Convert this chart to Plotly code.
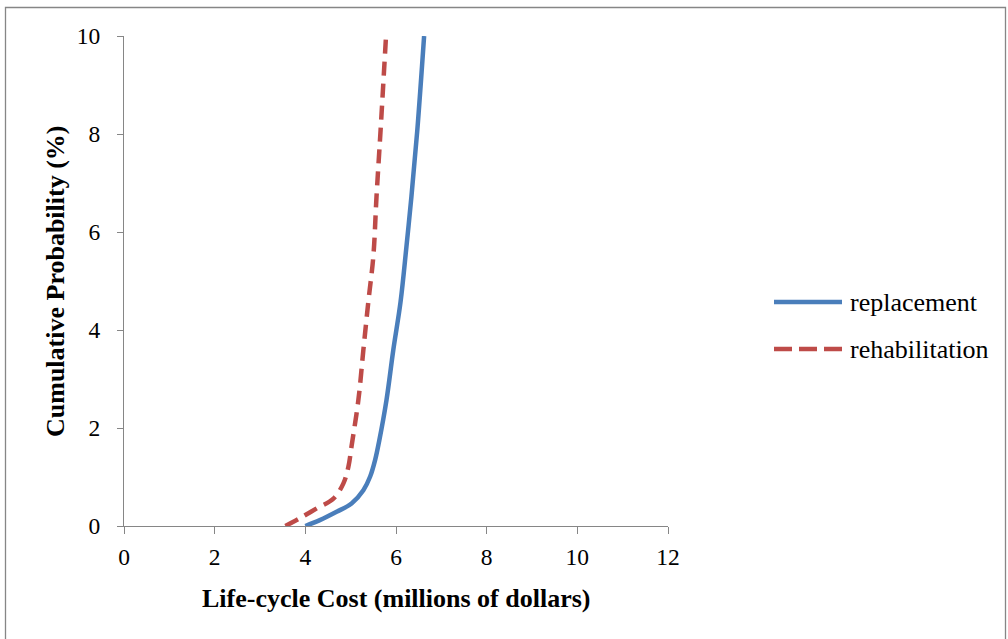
import plotly.graph_objects as go

# Data
replacement_cost = [4.0, 4.32, 4.69, 5.02, 5.28, 5.43, 5.54, 5.63, 5.79, 5.94, 6.10, 6.23, 6.34, 6.47, 6.62]
replacement_prob = [0.0, 0.12, 0.29, 0.46, 0.73, 1.01, 1.35, 1.74, 2.57, 3.59, 4.57, 5.70, 6.72, 8.08, 10.0]

rehab_cost = [3.56, 3.88, 4.25, 4.62, 4.84, 4.95, 5.02, 5.17, 5.28, 5.39, 5.50, 5.57, 5.66, 5.78]
rehab_prob = [0.0, 0.16, 0.36, 0.56, 0.87, 1.21, 1.63, 2.57, 3.59, 4.58, 5.50, 6.72, 8.08, 10.0]

x_ticks = [0, 2, 4, 6, 8, 10, 12]
y_ticks = [0, 2, 4, 6, 8, 10]

BLUE = "#4A7EBB"
RED = "#BE4B48"
AXIS = "#868686"
FONT = "Liberation Serif"

W, H = 1008, 639
L, R, T, B = 124, 340, 36, 113
pw, ph = W - L - R, H - T - B


def px(xp):
    return (xp - L) / pw


def py(yp):
    return (H - B - yp) / ph


fig = go.Figure()
fig.add_trace(go.Scatter(x=replacement_cost, y=replacement_prob, mode="lines",
                         name="replacement", line=dict(color=BLUE, width=4.5, shape="spline", smoothing=1.0),
                         showlegend=False, cliponaxis=False))
fig.add_trace(go.Scatter(x=rehab_cost, y=rehab_prob, mode="lines",
                         name="rehabilitation",
                         line=dict(color=RED, width=4.5, dash="14px,8px", shape="spline", smoothing=1.0),
                         showlegend=False, cliponaxis=False))

axis_common = dict(showgrid=False, zeroline=False, showline=True, linecolor=AXIS, linewidth=1.3,
                   ticks="outside", tickcolor=AXIS, tickwidth=1.3,
                   tickfont=dict(family=FONT, size=23.5, color="black"))
fig.update_xaxes(range=[0, 12], tickvals=x_ticks, ticktext=[str(v) for v in x_ticks], ticklen=7,
                 ticklabelstandoff=3, **axis_common)
fig.update_yaxes(range=[0, 10], tickvals=y_ticks, ticktext=[str(v) for v in y_ticks], ticklen=6,
                 ticklabelstandoff=12, **axis_common)

shapes = [
    # outer frame
    dict(type="rect", xref="paper", yref="paper", x0=px(5.5), x1=px(1005.5), y0=py(642), y1=py(7.5),
         line=dict(color=AXIS, width=1.3), layer="below"),
    # legend symbols
    dict(type="line", xref="paper", yref="paper", x0=px(774), x1=px(842), y0=py(302), y1=py(302),
         line=dict(color=BLUE, width=4.5)),
    dict(type="line", xref="paper", yref="paper", x0=px(774), x1=px(842), y0=py(349), y1=py(349),
         line=dict(color=RED, width=4.5, dash="18px,7px")),
]

annotations = [
    dict(text="replacement", xref="paper", yref="paper", x=px(848), y=py(302), xanchor="left", yanchor="middle",
         showarrow=False, font=dict(family=FONT, size=26, color="black")),
    dict(text="rehabilitation", xref="paper", yref="paper", x=px(848), y=py(349), xanchor="left", yanchor="middle",
         showarrow=False, font=dict(family=FONT, size=26, color="black")),
    dict(text="<b>Life-cycle Cost (millions of dollars)</b>", xref="paper", yref="paper", x=0.5, y=py(598),
         xanchor="center", yanchor="middle", showarrow=False, font=dict(family=FONT, size=26, color="black")),
    dict(text="<b>Cumulative Probability (%)</b>", xref="paper", yref="paper", x=px(55), y=0.5,
         xanchor="center", yanchor="middle", textangle=-90, showarrow=False,
         font=dict(family=FONT, size=26, color="black")),
]

fig.update_layout(width=W, height=H, margin=dict(l=L, r=R, t=T, b=B, autoexpand=False),
                  plot_bgcolor="white", paper_bgcolor="white", showlegend=False,
                  shapes=shapes, annotations=annotations)

fig.write_html("out.html", config={"displayModeBar": False},
               post_script="document.body.style.margin='0';document.body.style.overflow='hidden';")
